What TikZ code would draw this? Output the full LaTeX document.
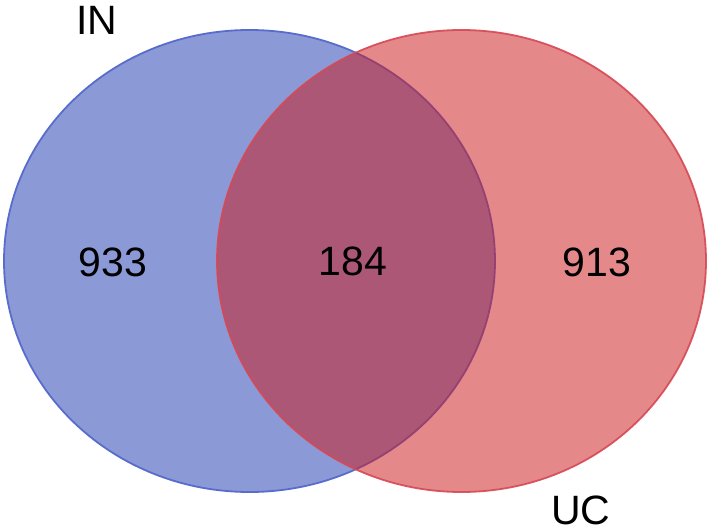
\documentclass[tikz,border=0pt]{standalone}
\usepackage{fontspec}
\setmainfont{Liberation Sans}
\definecolor{inFill}{RGB}{139,154,214}
\definecolor{inLine}{RGB}{88,108,204}
\definecolor{ucFill}{RGB}{205,26,30}
\definecolor{ucLine}{RGB}{214,72,84}
\begin{document}
\begin{tikzpicture}[x=1pt,y=-1pt,
  setin/.style={fill=inFill,draw=inLine,line width=1.8pt},
  setuc/.style={fill=ucFill,fill opacity=0.52,draw=ucLine,draw opacity=0.9,line width=1.8pt},
  lbl/.style={font=\fontsize{41}{48}\selectfont,inner sep=0pt,text=black}]
\useasboundingbox (0,0) rectangle (712,532);
\draw[setin] (249.5,261) ellipse [x radius=245.5, y radius=231];
\draw[setuc] (461.5,261) ellipse [x radius=244.5, y radius=231];
\node[lbl] (nin) at (97,20) {IN};
\node[lbl] (nuc) at (581,510) {UC};
\node[lbl] (a) at (113,262) {933};
\node[lbl] (b) at (353,261) {184};
\node[lbl] (c) at (597,262) {913};
\end{tikzpicture}
\end{document}
